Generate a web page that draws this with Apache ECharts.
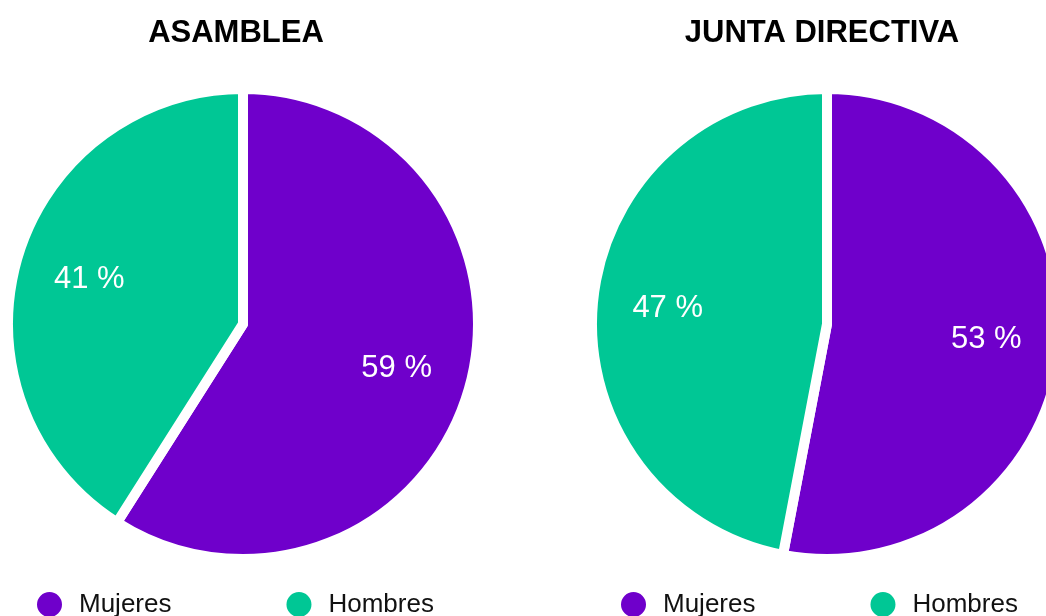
<!DOCTYPE html>
<html>
<head>
<meta charset="utf-8">
<script src="https://cdn.jsdelivr.net/npm/echarts@6/dist/echarts.min.js"></script>
<style>
  html, body { margin: 0; padding: 0; background: #ffffff; }
  #chart { width: 1046px; height: 616px; }
</style>
</head>
<body>
<div id="chart"></div>
<script>
// Gender composition of the two governing bodies
const categories = ['Mujeres', 'Hombres'];
const asambleaValues = [59, 41];
const juntaValues = [53, 47];
const chartTitles = ['ASAMBLEA', 'JUNTA DIRECTIVA'];

const COLORS = ['#6f00cb', '#00c795'];
const FONT = '"Liberation Sans", Arial, Helvetica, sans-serif';

const centers = [[243, 324], [827, 324]];
const titleCenters = [236, 822];
const legendLefts = [35, 619];

function toData(values) {
  return categories.map((name, i) => ({ name: name, value: values[i] }));
}

// Filled sectors, separated by white borders
function sliceSeries(values, center) {
  return {
    type: 'pie',
    center: center,
    radius: [0, 235],
    startAngle: 90,
    clockwise: true,
    silent: true,
    label: { show: false },
    labelLine: { show: false },
    itemStyle: { borderColor: '#ffffff', borderWidth: 10 },
    data: toData(values)
  };
}

// Transparent companion ring whose inner label position lands at ~2/3 of the slice radius
function labelSeries(values, center) {
  return {
    type: 'pie',
    center: center,
    radius: [0, 314],
    startAngle: 90,
    clockwise: true,
    silent: true,
    z: 5,
    itemStyle: { color: 'transparent', borderWidth: 0 },
    label: {
      show: true,
      position: 'inside',
      formatter: '{c} %',
      color: '#ffffff',
      fontFamily: FONT,
      fontSize: 31
    },
    labelLine: { show: false },
    emphasis: { disabled: true },
    data: toData(values)
  };
}

const chart = echarts.init(document.getElementById('chart'), null, { renderer: 'canvas' });

chart.setOption({
  animation: false,
  backgroundColor: '#ffffff',
  color: COLORS,
  title: chartTitles.map((t, i) => ({
    text: t,
    left: titleCenters[i],
    top: 18,
    textAlign: 'center',
    padding: 0,
    textStyle: { fontFamily: FONT, fontWeight: 'bold', fontSize: 31, color: '#000000' }
  })),
  legend: legendLefts.map(x => ({
    data: categories,
    left: x,
    top: 590,
    padding: 0,
    icon: 'circle',
    itemWidth: 27,
    itemHeight: 27,
    itemGap: 113,
    selectedMode: false,
    textStyle: {
      fontFamily: FONT,
      fontSize: 26,
      color: '#111111',
      padding: [0, 0, 0, 11]
    }
  })),
  series: [
    sliceSeries(asambleaValues, centers[0]),
    sliceSeries(juntaValues, centers[1]),
    labelSeries(asambleaValues, centers[0]),
    labelSeries(juntaValues, centers[1])
  ]
});
</script>
</body>
</html>
